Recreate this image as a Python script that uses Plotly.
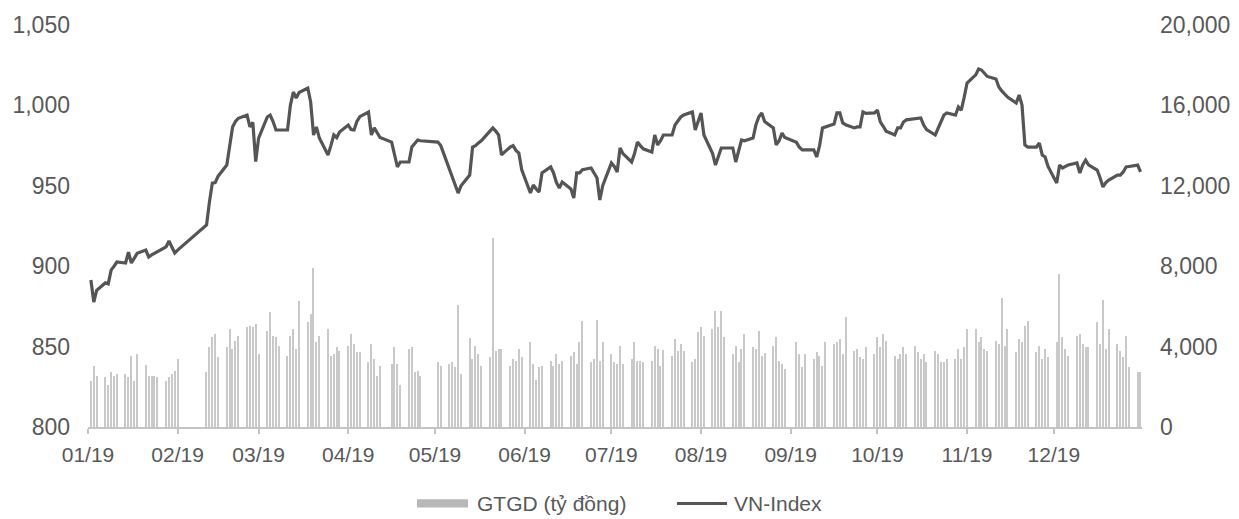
import pandas as pd
import plotly.graph_objects as go

# ---------------- data ----------------
year = 2019
holidays = ["2019-01-01", "2019-02-04", "2019-02-05", "2019-02-06", "2019-02-07",
            "2019-02-08", "2019-04-15", "2019-04-29", "2019-04-30", "2019-05-01",
            "2019-09-02"]

# GTGD (ty dong), one value per trading day, listed week by week
gtgd_weeks = [
    [2270, 3050, 2560],
    [2500, 2070, 2760, 2560, 2660],
    [2660, 2500, 3550, 2300, 3650],
    [3100, 2560, 2560, 2560, 2500],
    [2270, 2500, 2660, 2800, 3400],
    [2760, 4000, 4480, 4630, 3500],
    [4000, 4880, 3900, 4290, 4530],
    [4980, 5030, 4980, 5120, 3650],
    [4780, 5710, 4530, 4480, 4040],
    [3550, 4530, 4880, 3900, 6260],
    [5220, 5620, 7930, 4240, 4530],
    [4880, 3550, 3650, 3990, 3790],
    [4040, 4630, 4140, 3740, 3740],
    [3250, 4140, 3400, 2560, 3050],
    [3150, 3990, 3150, 2070],
    [3900, 3990, 2760, 2810, 2560],
    [3250, 3050],
    [3150, 3250, 3000, 6060, 2660],
    [4430, 3400, 4040, 3650, 3050],
    [3500, 9410, 3790, 3900, 3900],
    [3050, 3400, 3300, 3900, 3500],
    [4240, 3150, 2320, 3000, 3050],
    [3300, 3050, 3650, 3150, 3300],
    [3550, 3740, 3150, 4240, 5270],
    [3250, 3400, 5320, 3300, 4240],
    [3650, 3250, 3150, 4040, 3150],
    [3400, 4240, 3300, 3300, 3250],
    [3300, 4040, 3900, 3050, 3840],
    [3550, 4380, 3790, 4140, 3790],
    [3250, 3400, 4730, 4980, 4530],
    [4880, 5760, 4980, 5760, 4480],
    [3650, 4040, 3250, 3900, 4630],
    [3990, 3900, 4780, 3550, 3700],
    [4040, 4480, 3300, 3150, 2900],
    [4240, 3650, 3000, 3650],
    [3400, 3740, 3550, 3050, 4240],
    [4140, 4240, 4380, 3650, 5470],
    [3790, 3900, 3500, 3400, 3990],
    [3650, 4480, 3990, 4630, 4290],
    [3550, 3400, 3650, 3990, 3650],
    [4040, 3740, 3400, 3650, 3250],
    [3790, 3650, 3250, 3250, 3400],
    [3400, 3900, 3400, 3990, 4880],
    [4880, 4240, 4480, 3900, 3790],
    [4290, 4140, 6400, 4040, 4880],
    [3740, 4380, 4240, 5030, 5270],
    [3740, 4040, 3400, 3900, 3500],
    [4240, 7590, 4480, 3900, 3550],
    [4530, 4630, 4140, 3990, 3990],
    [5220, 4140, 6300, 3900, 4880],
    [4140, 3790, 3500, 4530, 3000],
    [2760, 2760],
]

vni_dates = [
    "01-02", "01-03", "01-04", "01-07", "01-08", "01-09", "01-10", "01-11", "01-14", "01-15",
    "01-16", "01-17", "01-18", "01-21", "01-22", "01-23", "01-24", "01-25", "01-28", "01-29",
    "01-30", "01-31", "02-01", "02-11", "02-12", "02-13", "02-14", "02-15", "02-18", "02-19",
    "02-20", "02-21", "02-22", "02-25", "02-26", "02-27", "02-28", "03-01", "03-04", "03-05",
    "03-06", "03-07", "03-08", "03-11", "03-12", "03-13", "03-14", "03-15", "03-18", "03-19",
    "03-20", "03-21", "03-22", "03-25", "03-26", "03-27", "03-28", "03-29", "04-01", "04-02",
    "04-03", "04-04", "04-05", "04-08", "04-09", "04-10", "04-11", "04-12", "04-16", "04-17",
    "04-18", "04-19", "04-22", "04-23", "04-24", "04-25", "04-26", "05-02", "05-03", "05-06",
    "05-07", "05-08", "05-09", "05-10", "05-13", "05-14", "05-15", "05-16", "05-17", "05-20",
    "05-21", "05-22", "05-23", "05-24", "05-27", "05-28", "05-29", "05-30", "05-31", "06-03",
    "06-04", "06-05", "06-06", "06-07", "06-10", "06-11", "06-12", "06-13", "06-14", "06-17",
    "06-18", "06-19", "06-20", "06-21", "06-24", "06-25", "06-26", "06-27", "06-28", "07-01",
    "07-02", "07-03", "07-04", "07-05", "07-08", "07-09", "07-10", "07-11", "07-12", "07-15",
    "07-16", "07-17", "07-18", "07-19", "07-22", "07-23", "07-24", "07-25", "07-26", "07-29",
    "07-30", "07-31", "08-01", "08-02", "08-05", "08-06", "08-07", "08-08", "08-09", "08-12",
    "08-13", "08-14", "08-15", "08-16", "08-19", "08-20", "08-21", "08-22", "08-23", "08-26",
    "08-27", "08-28", "08-29", "08-30", "09-03", "09-04", "09-05", "09-06", "09-09", "09-10",
    "09-11", "09-12", "09-13", "09-16", "09-17", "09-18", "09-19", "09-20", "09-23", "09-24",
    "09-25", "09-26", "09-27", "09-30", "10-01", "10-02", "10-03", "10-04", "10-07", "10-08",
    "10-09", "10-10", "10-11", "10-14", "10-15", "10-16", "10-17", "10-18", "10-21", "10-22",
    "10-23", "10-24", "10-25", "10-28", "10-29", "10-30", "10-31", "11-01", "11-04", "11-05",
    "11-06", "11-07", "11-08", "11-11", "11-12", "11-13", "11-14", "11-15", "11-18", "11-19",
    "11-20", "11-21", "11-22", "11-25", "11-26", "11-27", "11-28", "11-29", "12-02", "12-03",
    "12-04", "12-05", "12-06", "12-09", "12-10", "12-11", "12-12", "12-13", "12-16", "12-17",
    "12-18", "12-19", "12-20", "12-23", "12-24", "12-25", "12-26", "12-27", "12-30", "12-31",
]
vni_values = [
    891.4, 877.7, 885.0, 889.6, 889.0, 897.6, 900.0, 902.6, 902.0, 908.8,
    902.0, 905.0, 908.0, 910.0, 905.7, 907.0, 908.0, 908.8, 912.0, 915.7,
    912.0, 908.2, 910.0, 925.6, 940.0, 951.7, 952.0, 956.0, 962.9, 975.0,
    986.6, 990.0, 992.0, 994.0, 986.6, 989.5, 965.0, 979.7, 992.8, 994.0,
    990.0, 984.7, 984.7, 984.7, 1000.2, 1008.3, 1004.6, 1008.0, 1010.8, 1002.1,
    981.6, 986.6, 979.7, 969.2, 975.0, 981.6, 980.0, 983.5, 987.8, 985.0,
    984.7, 990.0, 993.0, 995.9, 981.6, 986.0, 983.0, 980.0, 977.2, 970.0,
    961.7, 964.8, 964.8, 974.1, 976.0, 978.5, 978.0, 977.2, 975.0, 960.0,
    955.0, 950.0, 945.5, 950.0, 956.7, 974.1, 975.0, 976.6, 978.0, 984.0,
    986.0, 984.0, 981.6, 969.2, 974.1, 975.0, 972.0, 970.4, 960.0, 945.5,
    950.5, 948.0, 946.1, 958.0, 961.7, 958.0, 952.0, 948.6, 952.4, 948.0,
    942.4, 958.0, 958.0, 960.0, 961.1, 958.0, 955.0, 941.2, 950.0, 964.2,
    962.0, 958.6, 973.5, 970.0, 964.8, 970.0, 977.2, 975.0, 973.0, 971.0,
    981.6, 975.4, 978.0, 981.6, 981.6, 987.8, 990.0, 992.8, 994.0, 995.9,
    984.7, 990.0, 995.3, 981.6, 970.0, 962.9, 968.0, 973.5, 973.5, 973.5,
    964.8, 972.0, 978.5, 978.0, 979.7, 988.0, 993.0, 995.3, 990.0, 986.0,
    975.4, 978.0, 982.8, 980.0, 977.0, 974.0, 972.3, 972.3, 972.3, 967.9,
    975.0, 986.0, 986.5, 988.4, 995.3, 995.3, 989.1, 988.0, 986.0, 986.6,
    986.6, 995.9, 995.0, 995.3, 997.1, 989.7, 987.0, 984.0, 981.6, 986.0,
    986.0, 989.7, 991.0, 992.0, 992.0, 992.2, 987.8, 985.0, 981.6, 986.0,
    990.0, 994.0, 995.3, 994.0, 999.0, 997.1, 1005.0, 1013.9, 1019.0, 1022.6,
    1022.0, 1020.1, 1018.0, 1016.4, 1011.4, 1009.0, 1007.0, 1005.2, 1001.5, 1006.5,
    1000.2, 975.4, 974.1, 974.1, 976.6, 969.2, 967.9, 962.0, 951.7, 962.9,
    961.1, 962.0, 963.0, 964.2, 958.0, 963.0, 966.0, 963.0, 959.8, 955.0,
    949.3, 952.0, 953.6, 956.7, 956.7, 958.6, 961.7, 962.0, 962.9, 958.6,
]

left_ticks = [800, 850, 900, 950, 1000, 1050]
right_ticks = [0, 4000, 8000, 12000, 16000, 20000]
legend_labels = ["GTGD (tỷ đồng)", "VN-Index"]

# ---------------- build ----------------
trading_days = pd.bdate_range(f"{year}-01-01", f"{year}-12-31")
trading_days = trading_days[~trading_days.isin(pd.to_datetime(holidays))]
gtgd = [v for wk in gtgd_weeks for v in wk]
bar_dates = list(trading_days[:len(gtgd)])
line_dates = pd.to_datetime([f"{year}-{d}" for d in vni_dates])

FONT = "Liberation Sans, Arial, sans-serif"
TXT = "#595959"

fig = go.Figure()
fig.add_trace(go.Bar(
    x=bar_dates, y=gtgd, yaxis="y2", name=legend_labels[0],
    marker=dict(color="#c9c9c9", line=dict(width=0)),
    width=0.42 * 86400000, showlegend=False,
))
fig.add_trace(go.Scatter(
    x=line_dates, y=vni_values, yaxis="y", mode="lines", name=legend_labels[1],
    line=dict(color="#555555", width=3.2), showlegend=False,
))

# the page body has an 8px margin, so the figure is sized 8px smaller
fig.update_layout(
    width=1231, height=511,
    margin=dict(l=80, r=97, t=17, b=92, autoexpand=False),
    paper_bgcolor="white", plot_bgcolor="white",
    font=dict(family=FONT, size=21, color=TXT),
    bargap=0,
    xaxis=dict(
        type="date", range=["2019-01-01", "2019-12-31 12:00"],
        tick0="2019-01-01", dtick="M1", tickformat="%m/%y",
        showgrid=False, zeroline=False, automargin=False,
        showline=True, linecolor="#c4c4c4", linewidth=1.5,
        ticks="outside", ticklen=5, tickcolor="#c4c4c4", tickwidth=1.5,
        ticklabelstandoff=3,
        tickfont=dict(family=FONT, size=21, color=TXT),
    ),
    yaxis=dict(
        range=[800, 1050], tickvals=left_ticks, tickformat=",",
        showgrid=False, zeroline=False, showline=False, automargin=False,
        ticklabelstandoff=17,
        tickfont=dict(family=FONT, size=23, color=TXT),
    ),
    yaxis2=dict(
        range=[0, 20000], tickvals=right_ticks, tickformat=",",
        overlaying="y", side="right", automargin=False,
        showgrid=False, zeroline=False, showline=False,
        ticklabelstandoff=17,
        tickfont=dict(family=FONT, size=23, color=TXT),
    ),
)

# custom legend (swatches + real text)
ly = -0.190
fig.add_shape(type="rect", xref="paper", yref="paper",
              x0=0.3121, x1=0.3605, y0=ly - 0.010, y1=ly + 0.010,
              fillcolor="#b8b8b8", line=dict(width=0))
fig.add_annotation(xref="paper", yref="paper", x=0.3672, y=ly, xanchor="left",
                   yanchor="middle", text=legend_labels[0], showarrow=False,
                   font=dict(family=FONT, size=21, color=TXT))
fig.add_shape(type="line", xref="paper", yref="paper",
              x0=0.5588, x1=0.6063, y0=ly, y1=ly,
              line=dict(color="#555555", width=3))
fig.add_annotation(xref="paper", yref="paper", x=0.611, y=ly, xanchor="left",
                   yanchor="middle", text=legend_labels[1], showarrow=False,
                   font=dict(family=FONT, size=21, color=TXT))

fig.write_html("out.html")
